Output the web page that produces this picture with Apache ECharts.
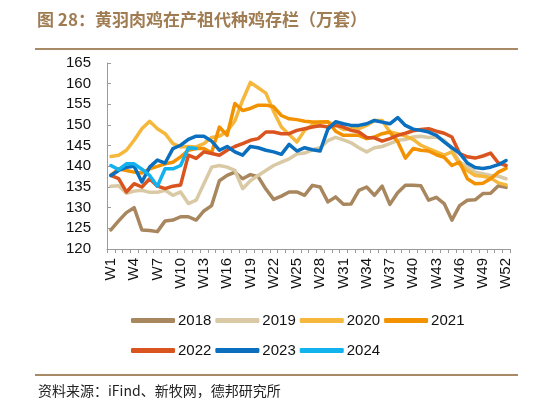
<!DOCTYPE html>
<html>
<head>
<meta charset="utf-8">
<script src="https://cdn.jsdelivr.net/npm/echarts@6/dist/echarts.min.js"></script>
<style>
html,body{margin:0;padding:0;background:#fff;}
#c{width:552px;height:416px;}
</style>
</head>
<body>
<div id="c"></div>
<script>
var weeks = [];
for (var i = 1; i <= 52; i++) weeks.push('W' + i);

var s2018 = [124.6,126.8,128.8,130,124.6,124.5,124.2,126.8,127,127.8,
             127.8,127,129.2,130.5,136.5,137.8,138.6,137,138,137.5,
             134.5,132,132.8,133.8,133.8,133,135.4,135,131.4,132.6,
             130.8,130.9,134.2,135,133,135.2,130.8,133.6,135.4,135.4,
             135.3,131.8,132.5,131,127,130.5,131.8,131.9,133.4,133.5,135.3,134.9];
var s2019 = [135.2,135.3,133.5,134,134.2,133.7,133.7,134.2,133,133.8,
             131,131.8,135.8,139.8,140.2,139.8,139,134.6,136.5,137.8,
             139,140.2,141,141.8,143,143.2,144,144.5,146.2,147,
             146.4,145.7,144.5,143.5,144.5,144.8,145.5,146.3,146.5,147.1,
             147.3,147,147.1,146.3,144.3,141,140,138.6,138.2,137.8,137.6,137];
var s2020 = [142.4,142.7,143.9,146.3,149.1,150.9,149.1,147.9,145.5,144.7,
             144.8,144.7,145.5,147,147.3,148.5,151,156,160.3,159,
             157.7,153.3,149.5,147.7,145.9,148.7,150,150.7,150.7,150,
             148.9,149.1,149.1,149.9,151.1,151.1,148.3,147.9,147.3,146.5,
             145.1,144.3,143.5,142.7,143.5,140.5,139,137.8,137.6,137.2,136,135.5];
var s2021 = [137.8,139.4,139,138.6,138.4,139.4,140,140.6,141,142.3,
             143.9,144.3,144.3,143.3,149.5,147.5,155.2,153.5,154,154.8,
             154.8,154.4,152.3,151.5,151.3,150.9,150.7,150.7,150.8,148.5,
             147.5,147.5,147.5,146.7,147.1,147.9,148.3,146,142,144.3,
             143.9,143.7,142.8,142.2,140.2,141,137,135.8,135.9,137,138.6,139.5];
var s2022 = [137.8,137,133.8,135.8,135,137,135.2,134.6,135.2,135.5,
             142.7,141.9,143.5,143.1,142.7,143.9,144.8,145.5,146.3,146.7,
             148.3,148.3,147.9,147.9,148.7,149.1,149.5,149.8,149.5,149.9,
             149.5,148.7,148.3,147,146.9,146.1,146.7,147.5,148,148.6,
             148.9,149.1,148.5,148,147.1,143.1,142.3,142,142.5,143.2,140.8,140.2];
var s2023 = [137.8,139,139.8,140,136.2,139.8,141.5,140.8,144.3,145.1,
             146.5,147.3,147.3,146.1,143.9,144.8,143.5,142.7,144.8,144.5,
             143.9,143.5,142.9,145.3,143.7,144.5,144,143.7,149,150.8,
             150.3,149.9,149.9,150.3,151.1,150.7,150.3,151.8,149.9,149,
             148.7,148.3,147.5,145.9,144.5,143.2,140.8,139.7,139.5,139.8,140.4,141.4];
var s2024 = [140.2,139.2,140.6,140.6,139.3,137.8,135.2,139.4,139.4,140.2,144.5,144.3];

var names = ['2018','2019','2020','2021','2022','2023','2024'];
var datas = [s2018,s2019,s2020,s2021,s2022,s2023,s2024];
var colors = ['#A8865E','#D9CAA5','#F6B83C','#F39200','#D9541E','#0A6FBF','#12B2EE'];

var FONT = '"Liberation Sans", Arial, sans-serif';
var series = names.map(function(n, i){
  return {
    name: n, type: 'line', data: datas[i], symbol: 'none',
    lineStyle: {width: 3.5, color: colors[i], cap: 'round', join: 'round'},
    itemStyle: {color: colors[i]}
  };
});

var legendCommon = {
  orient: 'horizontal', left: 126, itemWidth: 44, itemHeight: 5, itemGap: 4,
  icon: 'roundRect',
  textStyle: {fontSize: 15, color: '#111', fontFamily: FONT, padding: [0,0,0,-2]}
};

var chart = echarts.init(document.getElementById('c'), null, {renderer: 'canvas'});
chart.setOption({
  animation: false,
  backgroundColor: '#fff',
  color: colors,
  grid: {left: 107, right: 42, top: 63, bottom: 167, containLabel: false},
  legend: [
    Object.assign({data: ['2018','2019','2020','2021'], top: 308}, legendCommon),
    Object.assign({data: ['2022','2023','2024'], top: 338}, legendCommon)
  ],
  xAxis: {
    type: 'category', data: weeks, boundaryGap: true,
    axisLine: {lineStyle: {color: '#9a9a9a', width: 1}},
    axisTick: {show: true, interval: 0, length: 4, lineStyle: {color: '#9a9a9a'}},
    axisLabel: {interval: 2, rotate: 90, fontSize: 15, color: '#111', fontFamily: FONT, margin: 9}
  },
  yAxis: {
    type: 'value', min: 120, max: 165, interval: 5,
    axisLine: {show: true, lineStyle: {color: '#9a9a9a', width: 1}},
    axisTick: {show: true, inside: true, length: 4, lineStyle: {color: '#9a9a9a'}},
    splitLine: {show: false},
    axisLabel: {fontSize: 15, color: '#111', fontFamily: FONT, margin: 16}
  },
  graphic: [
    {type: 'text', left: 37, top: 11, style: {text: '图 28：黄羽肉鸡在产祖代种鸡存栏（万套）', fontSize: 17, fontWeight: 'bold', fill: '#A07C52', fontFamily: '"Noto Sans CJK SC", sans-serif'}},
    {type: 'rect', shape: {x: 35, y: 48, width: 483, height: 2}, style: {fill: '#A88A67'}},
    {type: 'rect', shape: {x: 35, y: 374, width: 483, height: 2}, style: {fill: '#A88A67'}},
    {type: 'text', left: 38, top: 384, style: {text: '资料来源：iFind、新牧网，德邦研究所', fontSize: 14, fill: '#222', fontFamily: '"Noto Sans CJK SC", sans-serif'}}
  ],
  series: series
});
</script>
</body>
</html>
